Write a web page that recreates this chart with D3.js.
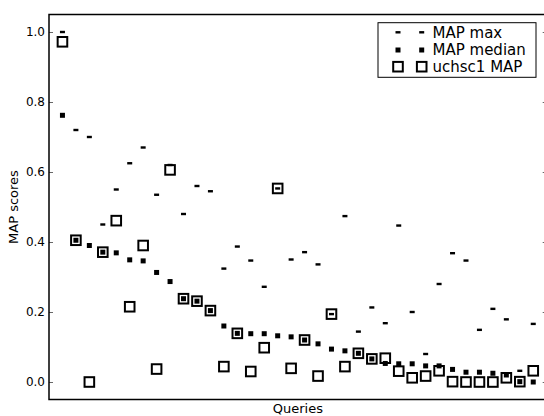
<!DOCTYPE html>
<html>
<head>
<meta charset="utf-8">
<script src="https://cdn.jsdelivr.net/npm/d3@7"></script>
<style>
  body { margin: 0; background: #fff; }
  svg { font-family: "DejaVu Sans", sans-serif; }
</style>
</head>
<body>
<svg width="544" height="416"></svg>
<script>
// one entry per query, already sorted by median
var queries = d3.range(1, 37)
var mapMax = [1.0, 0.72, 0.70, 0.45, 0.55, 0.625, 0.67, 0.535, 0.62, 0.48,
    0.56, 0.545, 0.324, 0.387, 0.347, 0.272, 0.553, 0.35, 0.371, 0.336,
    0.194, 0.474, 0.144, 0.213, 0.168, 0.447, 0.2, 0.08, 0.28, 0.368,
    0.347, 0.149, 0.209, 0.179, 0.032, 0.166]
var mapMedian = [0.762, 0.405, 0.39, 0.371, 0.369, 0.349, 0.346, 0.313, 0.287, 0.238,
    0.231, 0.204, 0.16, 0.139, 0.138, 0.138, 0.132, 0.129, 0.12, 0.109,
    0.094, 0.089, 0.082, 0.066, 0.053, 0.052, 0.052, 0.046, 0.046, 0.036,
    0.028, 0.028, 0.025, 0.02, 0.001, 0.0]
var uchsc1 = [0.972, 0.405, 0.0, 0.371, 0.461, 0.215, 0.39, 0.037, 0.606, 0.238,
    0.231, 0.204, 0.044, 0.139, 0.03, 0.098, 0.553, 0.039, 0.12, 0.017,
    0.194, 0.044, 0.082, 0.066, 0.068, 0.031, 0.012, 0.017, 0.032, 0.001,
    0.0, 0.0, 0.0, 0.012, 0.001, 0.032]
var yTicks = [0.0, 0.2, 0.4, 0.6, 0.8, 1.0]
var legendLabels = ["MAP max", "MAP median", "uchsc1 MAP"]

var svg = d3.select("svg")
var pLeft = 49, pRight = 546.7, pTop = 14.5, pBottom = 399.5

var x = d3.scaleLinear().domain([0, 37]).range([pLeft, pRight])
var y = d3.scaleLinear().domain([-0.05, 1.05]).range([pBottom, pTop])

// ticks (pointing inward on both sides)
var yAxis = d3.axisLeft(y).tickValues(yTicks).tickFormat(d3.format(".1f"))
    .tickSizeInner(-4).tickSizeOuter(0).tickPadding(4)
var gy = svg.append("g").attr("transform", "translate(" + pLeft + ",0)").call(yAxis)
gy.select(".domain").remove()
gy.selectAll("text").attr("font-size", 12).attr("font-family", "DejaVu Sans").attr("fill", "#000")
gy.selectAll("line").attr("stroke", "#000").attr("stroke-width", 0.6)

var yAxisR = d3.axisRight(y).tickValues(yTicks).tickFormat("")
    .tickSizeInner(-4).tickSizeOuter(0)
var gr = svg.append("g").attr("transform", "translate(" + pRight + ",0)").call(yAxisR)
gr.select(".domain").remove()
gr.selectAll("line").attr("stroke", "#000").attr("stroke-width", 0.6)

var plot = svg.append("g")

// MAP max: short dashes
plot.selectAll(".mx").data(queries).enter().append("rect")
    .attr("x", (d) => x(d) - 2.5)
    .attr("y", (d, i) => y(mapMax[i]) - 1.2)
    .attr("width", 5).attr("height", 2.4)
    .attr("fill", "#000")

// MAP median: small filled squares
plot.selectAll(".md").data(queries).enter().append("rect")
    .attr("x", (d) => x(d) - 2.5)
    .attr("y", (d, i) => y(mapMedian[i]) - 2.5)
    .attr("width", 5).attr("height", 5)
    .attr("fill", "#000")

// uchsc1: open squares
plot.selectAll(".uc").data(queries).enter().append("rect")
    .attr("x", (d) => x(d) - 4.8)
    .attr("y", (d, i) => y(uchsc1[i]) - 4.8)
    .attr("width", 9.6).attr("height", 9.6)
    .attr("fill", "none")
    .attr("stroke", "#000")
    .attr("stroke-width", 2)

// frame
svg.append("rect")
    .attr("x", pLeft).attr("y", pTop)
    .attr("width", pRight - pLeft).attr("height", pBottom - pTop)
    .attr("fill", "none").attr("stroke", "#000").attr("stroke-width", 1.5)

// axis labels
svg.append("text")
    .attr("x", (pLeft + pRight) / 2).attr("y", 413)
    .attr("text-anchor", "middle").attr("font-size", 13)
    .text("Queries")
svg.append("text")
    .attr("transform", "translate(18," + ((pTop + pBottom) / 2) + ") rotate(-90)")
    .attr("text-anchor", "middle").attr("font-size", 13)
    .text("MAP scores")

// legend
var lg = svg.append("g")
lg.append("rect")
    .attr("x", 378).attr("y", 22.7).attr("width", 158).attr("height", 54.6)
    .attr("fill", "#fff").attr("stroke", "#000").attr("stroke-width", 1)
var rowY = [32.3, 50, 66.7]
legendLabels.forEach((lab, i) => {
    [398, 421.7].forEach((cx) => {
        if (i == 0) {
            lg.append("rect").attr("x", cx - 2.5).attr("y", rowY[i] - 1.2)
                .attr("width", 5).attr("height", 2.4).attr("fill", "#000")
        } else if (i == 1) {
            lg.append("rect").attr("x", cx - 2.5).attr("y", rowY[i] - 2.5)
                .attr("width", 5).attr("height", 5).attr("fill", "#000")
        } else {
            lg.append("rect").attr("x", cx - 4.8).attr("y", rowY[i] - 4.8)
                .attr("width", 9.6).attr("height", 9.6)
                .attr("fill", "none").attr("stroke", "#000").attr("stroke-width", 2)
        }
    })
    lg.append("text").attr("x", 432.5).attr("y", rowY[i]).attr("dy", "0.36em")
        .attr("font-size", 15).text(lab)
})
</script>
</body>
</html>
